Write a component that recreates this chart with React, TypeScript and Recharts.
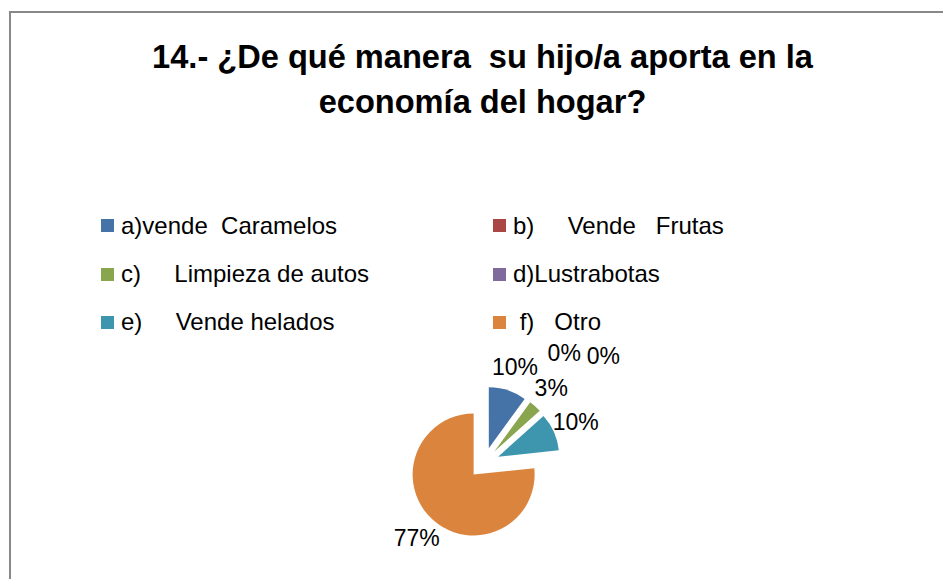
import React from 'react';
import { PieChart, Pie, Cell, Legend, Sector } from 'recharts';

const W = 943;
const H = 579;

const categories = [
  'a)vende  Caramelos',
  'b)     Vende   Frutas',
  'c)     Limpieza de autos',
  'd)Lustrabotas',
  'e)     Vende helados',
  ' f)   Otro',
];
const values = [3, 0, 1, 0, 3, 23];
const colors = ['#4572A7', '#AA4643', '#89A54E', '#80699B', '#3D96AE', '#DB843D'];
const titleLines = ['14.- ¿De qué manera  su hijo/a aporta en la', 'economía del hogar?'];

const data = categories.map((name, i) => ({ name, value: values[i] }));

const RAD = Math.PI / 180;
const EXPLODE = 15.5;
const FONT = '"Liberation Sans", Arial, sans-serif';

function renderSlice(props: any) {
  const { cx, cy, outerRadius, startAngle, endAngle, midAngle, percent, index, value } = props;
  const dx = Math.cos(-midAngle * RAD);
  const dy = Math.sin(-midAngle * RAD);
  const ex = cx + EXPLODE * dx;
  const ey = cy + EXPLODE * dy;
  let r: number;
  if (value === 0) {
    const k = data.slice(0, index).filter((d) => d.value === 0).length;
    r = outerRadius + 60 + 24 * k;
  } else {
    r = outerRadius + 24;
  }
  const lx = ex + r * dx;
  const ly = ey + r * dy;
  return (
    <g key={`slice-${index}`}>
      {value > 0 && (
        <Sector
          cx={ex}
          cy={ey}
          innerRadius={0}
          outerRadius={outerRadius}
          startAngle={startAngle}
          endAngle={endAngle}
          fill={colors[index]}
          stroke="none"
        />
      )}
      <text
        x={lx}
        y={ly}
        textAnchor="middle"
        dominantBaseline="central"
        fontFamily={FONT}
        fontSize={23}
        fill="#000"
      >
        {`${Math.round(percent * 100)}%`}
      </text>
    </g>
  );
}

const legendCols = [101, 493];
const legendRows = [225.5, 274, 322];

function LegendGrid(props: any) {
  const payload = props.payload || [];
  return (
    <div style={{ position: 'relative', width: W, height: 0 }}>
      {payload.map((item: any) => {
        const idx = categories.indexOf(item.value);
        const col = idx % 2;
        const row = Math.floor(idx / 2);
        const x = legendCols[col];
        const y = legendRows[row];
        return (
          <div key={item.value}>
            <div
              style={{
                position: 'absolute',
                left: x,
                top: y - 6.5,
                width: 13,
                height: 13,
                background: item.color || colors[idx],
              }}
            />
            <div
              style={{
                position: 'absolute',
                left: x + 20,
                top: y - 14,
                height: 28,
                lineHeight: '28px',
                fontFamily: FONT,
                fontSize: 24,
                color: '#000',
                whiteSpace: 'pre',
              }}
            >
              {item.value}
            </div>
          </div>
        );
      })}
    </div>
  );
}

export default function App() {
  return (
    <div style={{ position: 'absolute', left: 0, top: 0, width: W, height: H, background: '#fff', overflow: 'hidden' }}>
      <PieChart width={W} height={H} margin={{ top: 0, right: 0, bottom: 0, left: 0 }}>
        <Pie
          data={data}
          dataKey="value"
          nameKey="name"
          cx={484}
          cy={463}
          outerRadius={61}
          startAngle={90}
          endAngle={-270}
          isAnimationActive={false}
          label={renderSlice}
          labelLine={false}
          fillOpacity={0}
          stroke="none"
        >
          {data.map((d, i) => (
            <Cell key={d.name} fill={colors[i]} />
          ))}
        </Pie>
        <Legend
          itemSorter={null as any}
          content={(p: any) => <LegendGrid payload={p.payload} />}
          wrapperStyle={{ position: 'absolute', left: 0, top: 0, width: W, height: 0 }}
        />
      </PieChart>
      <svg width={W} height={H} style={{ position: 'absolute', left: 0, top: 0, pointerEvents: 'none' }}>
        <rect x={10} y={12} width={W + 20} height={H + 20} fill="none" stroke="#888888" strokeWidth={2} />
        {titleLines.map((t, i) => (
          <text
            key={i}
            x={482.5}
            y={68 + 45 * i}
            textAnchor="middle"
            fontFamily={FONT}
            fontWeight="bold"
            fontSize={32.6}
            fill="#000"
            style={{ whiteSpace: 'pre' }}
          >
            {t}
          </text>
        ))}
      </svg>
    </div>
  );
}
